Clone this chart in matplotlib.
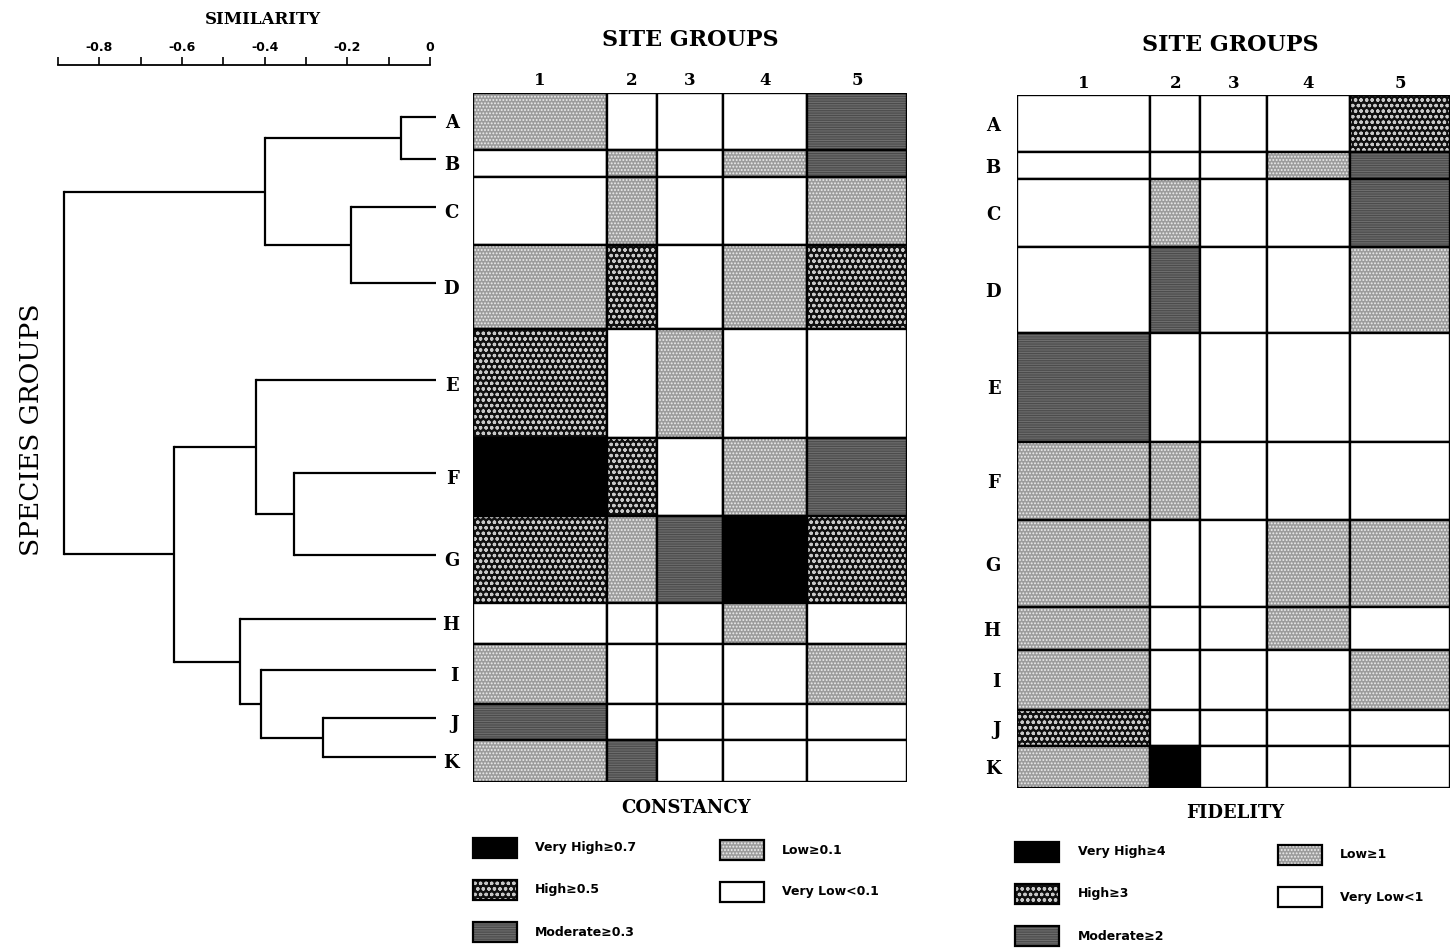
import matplotlib.pyplot as plt
import numpy as np
from matplotlib.patches import Rectangle

W, H = 1452, 950

# species groups (rows) and their relative sizes
species = list("ABCDEFGHIJK")
species_sizes = [57, 27, 68, 85, 109, 78, 87, 42, 60, 36, 42]

# site groups (columns) and number of sites in each
site_groups = ["1", "2", "3", "4", "5"]
site_sizes = [8, 3, 4, 5, 6]

# dendrogram joins: (left cluster, right cluster, similarity)
merges = [
    ("A", "B", -0.07),
    ("C", "D", -0.19),
    ("AB", "CD", -0.40),
    ("F", "G", -0.33),
    ("E", "FG", -0.42),
    ("J", "K", -0.26),
    ("I", "JK", -0.41),
    ("H", "IJK", -0.46),
    ("EFG", "HIJK", -0.62),
    ("ABCD", "EFGHIJK", -0.885),
]

# class per cell: 0 very low, 1 low, 2 moderate, 3 high, 4 very high
constancy = [
    [1, 0, 0, 0, 2],
    [0, 1, 0, 1, 2],
    [0, 1, 0, 0, 1],
    [1, 3, 0, 1, 3],
    [3, 0, 1, 0, 0],
    [4, 3, 0, 1, 2],
    [3, 1, 2, 4, 3],
    [0, 0, 0, 1, 0],
    [1, 0, 0, 0, 1],
    [2, 0, 0, 0, 0],
    [1, 2, 0, 0, 0],
]
fidelity = [
    [0, 0, 0, 0, 3],
    [0, 0, 0, 1, 2],
    [0, 1, 0, 0, 2],
    [0, 2, 0, 0, 1],
    [2, 0, 0, 0, 0],
    [1, 1, 0, 0, 0],
    [1, 0, 0, 1, 1],
    [1, 0, 0, 1, 0],
    [1, 0, 0, 0, 1],
    [3, 0, 0, 0, 0],
    [1, 4, 0, 0, 0],
]

constancy_labels = ["Very High\u22650.7", "High\u22650.5", "Moderate\u22650.3",
                    "Low\u22650.1", "Very Low<0.1"]
fidelity_labels = ["Very High\u22654", "High\u22653", "Moderate\u22652",
                   "Low\u22651", "Very Low<1"]
legend_levels = [4, 3, 2, 1, 0]

similarity_ticks = [-0.8, -0.6, -0.4, -0.2, 0.0]
similarity_ticklabels = ["-0.8", "-0.6", "-0.4", "-0.2", "0"]

STYLES = {
    0: dict(face="white", hatch=None, hcolor=None),
    1: dict(face="#9c9c9c", hatch=".....", hcolor="#eeeeee"),
    2: dict(face="#6e6e6e", hatch="-------", hcolor="#4c4c4c"),
    3: dict(face="#101010", hatch="ooo", hcolor="#c8c8c8"),
    4: dict(face="black", hatch=None, hcolor=None),
}

SERIF = "DejaVu Serif"
plt.rcParams["hatch.linewidth"] = 0.9


def add_cell(ax, x, y, w, h, level, lw=1.7):
    st = STYLES[level]
    ax.add_patch(Rectangle((x, y), w, h, facecolor=st["face"], edgecolor="none", lw=0))
    if st["hatch"]:
        ax.add_patch(Rectangle((x, y), w, h, facecolor="none", edgecolor=st["hcolor"],
                               hatch=st["hatch"], lw=0))
    ax.add_patch(Rectangle((x, y), w, h, facecolor="none", edgecolor="black", lw=lw))


def draw_table(ax, levels, col_pad, row_pad):
    x_edges = np.concatenate([[0], np.cumsum(site_sizes)])
    y_edges = np.concatenate([[0], np.cumsum(species_sizes)])
    for i, row in enumerate(levels):
        for j, lev in enumerate(row):
            add_cell(ax, x_edges[j], y_edges[i], site_sizes[j], species_sizes[i], lev)
    ax.set_xlim(0, x_edges[-1])
    ax.set_ylim(y_edges[-1], 0)
    ax.xaxis.tick_top()
    ax.set_xticks((x_edges[:-1] + x_edges[1:]) / 2)
    ax.set_xticklabels(site_groups, fontfamily=SERIF, fontweight="bold", fontsize=12)
    ax.set_yticks((y_edges[:-1] + y_edges[1:]) / 2)
    ax.set_yticklabels(species, fontfamily=SERIF, fontweight="bold", fontsize=13)
    ax.tick_params(axis="x", length=0, pad=col_pad)
    ax.tick_params(axis="y", length=0, pad=row_pad)
    for s in ax.spines.values():
        s.set_visible(False)


def px_axes(fig, left, top, right, bottom):
    return fig.add_axes([left / W, 1 - bottom / H, (right - left) / W, (bottom - top) / H])


fig = plt.figure(figsize=(W / 100, H / 100), dpi=100)

# overlay in pixel units for titles and legends
ov = fig.add_axes([0, 0, 1, 1])
ov.set_xlim(0, W)
ov.set_ylim(H, 0)
ov.axis("off")

# dendrogram
S = sum(species_sizes)
ax_d = px_axes(fig, 58, 65, 440, 782)
ax_d.set_xlim(-0.9, -0.9 + 382 / 413.3)
ax_d.set_ylim(S, -28 * S / 689)

edges = np.concatenate([[0], np.cumsum(species_sizes)])
pos = {name: ((edges[k] + edges[k + 1]) / 2 - 4, 0.015) for k, name in enumerate(species)}
for left, right, sim in merges:
    for child in (left, right):
        y, x0 = pos[child]
        ax_d.plot([x0, sim], [y, y], color="black", lw=1.6, solid_capstyle="butt")
    y1, y2 = pos[left][0], pos[right][0]
    ax_d.plot([sim, sim], [y1, y2], color="black", lw=1.6, solid_capstyle="projecting")
    pos[left + right] = ((y1 + y2) / 2, sim)

for name in ("left", "right", "bottom"):
    ax_d.spines[name].set_visible(False)
ax_d.spines["top"].set_bounds(-0.9, 0)
ax_d.spines["top"].set_linewidth(1.3)
ax_d.xaxis.tick_top()
ax_d.set_xticks(similarity_ticks)
ax_d.set_xticklabels(similarity_ticklabels, fontsize=9, fontweight="bold")
ax_d.set_xticks(np.arange(-0.9, 0, 0.2), minor=True)
ax_d.tick_params(axis="x", which="both", direction="out", length=6, width=1.2, pad=2)
ax_d.set_yticks([])
ax_d.patch.set_alpha(0)

# constancy and fidelity tables
ax_c = px_axes(fig, 473, 93, 907, 782)
draw_table(ax_c, constancy, col_pad=3, row_pad=10)
ax_f = px_axes(fig, 1017, 95, 1450, 788)
draw_table(ax_f, fidelity, col_pad=2, row_pad=12)

title_kw = dict(fontfamily=SERIF, fontweight="bold", ha="center", va="center")
ov.text(263, 20, "SIMILARITY", fontsize=12, **title_kw)
ov.text(690, 40, "SITE GROUPS", fontsize=16, **title_kw)
ov.text(1230, 45, "SITE GROUPS", fontsize=16, **title_kw)
ov.text(686, 808, "CONSTANCY", fontsize=13, **title_kw)
ov.text(1235, 813, "FIDELITY", fontsize=13, **title_kw)
ov.text(32, 430, "SPECIES GROUPS", fontsize=19, fontfamily=SERIF, rotation=90,
        ha="center", va="center")


def draw_legend(ax, labels, col_x, text_x, rows_y):
    for k, (lev, lab) in enumerate(zip(legend_levels, labels)):
        col = 0 if k < 3 else 1
        y = rows_y[col][k if k < 3 else k - 3]
        add_cell(ax, col_x[col], y, 44, 20, lev, lw=1.6)
        ax.text(text_x[col], y + 10, lab, fontsize=9, fontweight="bold",
                ha="left", va="center")


draw_legend(ov, constancy_labels, (473, 720), (535, 782),
            ([838, 880, 922], [840, 882]))
draw_legend(ov, fidelity_labels, (1015, 1278), (1078, 1340),
            ([842, 884, 926], [845, 887]))

fig.savefig("out.png", dpi=100)
